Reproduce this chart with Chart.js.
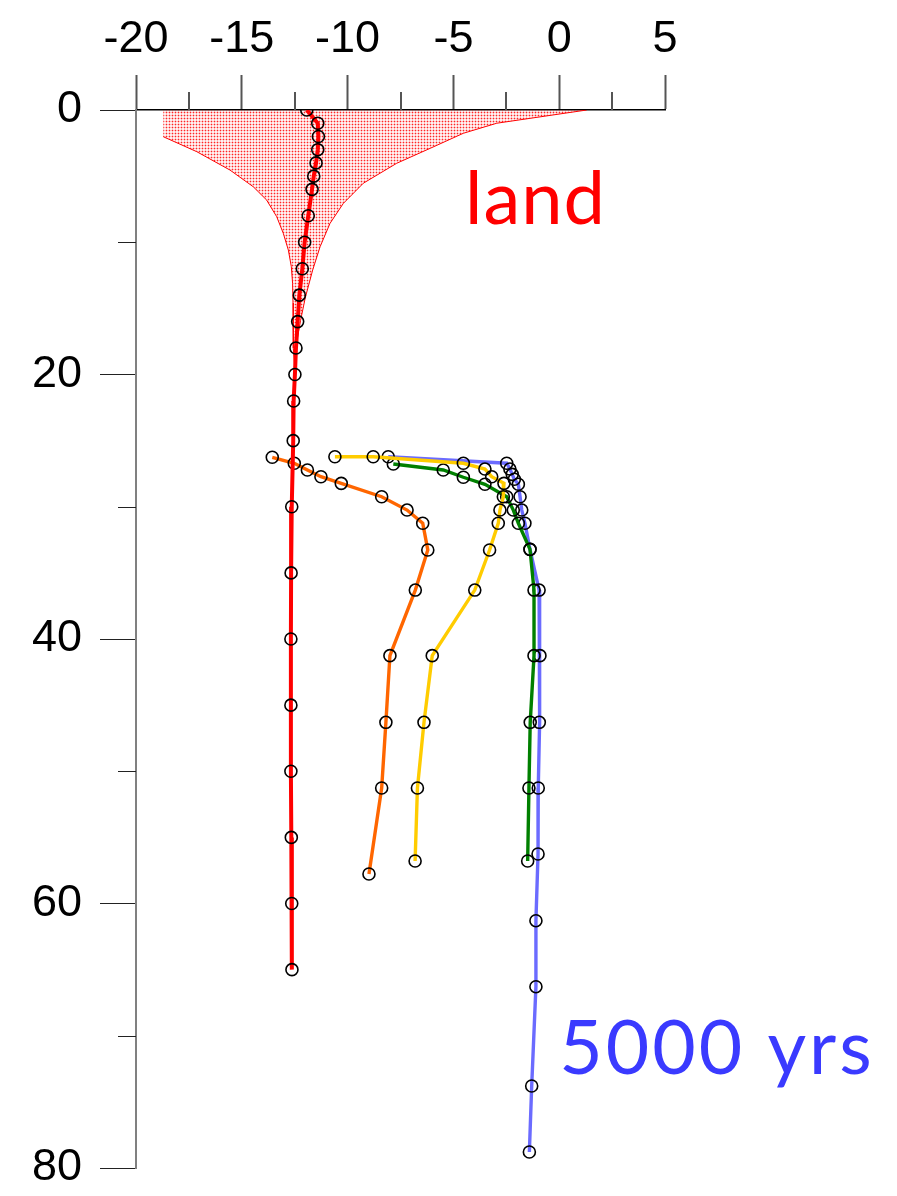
<!DOCTYPE html>
<html>
<head>
<meta charset="utf-8">
<script src="https://cdn.jsdelivr.net/npm/chart.js@4/dist/chart.umd.min.js"></script>
<style>
  html, body { margin: 0; padding: 0; background: #fff; }
  canvas { display: block; }
</style>
</head>
<body>
<canvas id="c" width="897" height="1196"></canvas>
<script>
// Temperature (°C, x) against depth (m, y, increasing downward)

// Land profile
const landDepth = [0, 1, 2, 3, 4, 5, 6, 8, 10, 12, 14, 16, 18, 20, 22, 25, 30, 35, 40, 45, 50, 55, 60, 65];
const landTemp  = [-11.93, -11.41, -11.38, -11.41, -11.49, -11.6, -11.68, -11.86, -12.03, -12.14, -12.28, -12.36,
                   -12.44, -12.49, -12.55, -12.57, -12.64, -12.67, -12.68, -12.68, -12.68, -12.66, -12.64, -12.63];

// Seasonal range of the land profile (left and right edges, top to bottom)
const rangeLeftTemp   = [-18.71, -18.71, -17.13, -15.56, -14.46, -13.83, -13.35, -13.04, -12.8, -12.66, -12.6, -12.58, -12.57, -12.56, -12.5];
const rangeLeftDepth  = [0, 2.02, 3.15, 4.54, 5.8, 6.8, 8.07, 9.32, 10.59, 11.85, 13.1, 14.6, 16, 18, 19.5];
const rangeRightTemp  = [1.3, -2.95, -4.53, -6.1, -7.68, -9.26, -10.2, -10.83, -11.3, -11.65, -12.0, -12.22, -12.4, -12.5];
const rangeRightDepth = [0, 1.0, 1.76, 2.9, 4.03, 5.54, 7.06, 8.57, 10.34, 12.1, 14.2, 15.9, 17.5, 19.5];

// Submerged profiles
const orangeDepth = [26.26, 26.71, 27.22, 27.73, 28.23, 29.24, 30.25, 31.25, 33.27, 36.3, 41.26, 46.3, 51.27, 57.77];
const orangeTemp  = [-13.56, -12.52, -11.9, -11.26, -10.3, -8.39, -7.19, -6.45, -6.21, -6.8, -8.0, -8.19, -8.39, -8.99];

const yellowDepth = [26.22, 26.22, 26.71, 27.15, 27.73, 28.23, 29.24, 30.25, 31.25, 33.27, 36.3, 41.26, 46.3, 51.27, 56.79];
const yellowTemp  = [-10.6, -8.79, -4.53, -3.51, -3.19, -2.61, -2.64, -2.8, -2.88, -3.29, -3.99, -6.0, -6.39, -6.7, -6.81];

const greenDepth = [26.77, 27.22, 27.77, 28.3, 29.24, 30.25, 31.25, 33.22, 36.3, 41.26, 46.3, 51.27, 56.79];
const greenTemp  = [-7.84, -5.48, -4.53, -3.51, -2.48, -2.17, -1.93, -1.38, -1.19, -1.19, -1.37, -1.43, -1.49];

const blueDepth = [26.22, 26.71, 27.15, 27.55, 27.92, 28.3, 29.24, 30.25, 31.25, 33.22, 36.3, 41.26, 46.3, 51.27,
                   56.26, 61.3, 66.29, 73.8, 78.79];
const blueTemp  = [-8.08, -2.48, -2.33, -2.22, -2.12, -1.93, -1.85, -1.77, -1.62, -1.38, -0.95, -0.91, -0.94, -0.99,
                   -1.0, -1.1, -1.1, -1.3, -1.41];

// Axis tick labels
const xTickValues = [-20, -15, -10, -5, 0, 5];
const yTickValues = [0, 20, 40, 60, 80];

const pts = (xs, ys) => xs.map((x, i) => ({ x: x, y: ys[i] }));

// Closed outline of the range: down the left edge, back up the right edge
const rangeShape = pts(rangeLeftTemp, rangeLeftDepth)
  .concat(pts(rangeRightTemp, rangeRightDepth).reverse());
// Stroked edge of the range (the flat top and the left cut are not outlined)
const rangeEdge = rangeShape.slice(1);

const canvas = document.getElementById('c');
const ctx0 = canvas.getContext('2d');

// Dotted pink-red fill
const tile = document.createElement('canvas');
tile.width = 3; tile.height = 3;
const tctx = tile.getContext('2d');
tctx.fillStyle = 'rgba(255,0,0,0.85)';
tctx.fillRect(1, 1, 1, 1);
tctx.fillStyle = 'rgba(255,0,0,0.28)';
tctx.fillRect(0, 1, 1, 1);
tctx.fillRect(2, 1, 1, 1);
tctx.fillRect(1, 0, 1, 1);
tctx.fillRect(1, 2, 1, 1);
tctx.fillStyle = 'rgba(255,0,0,0.06)';
tctx.fillRect(0, 0, 1, 1);
tctx.fillRect(2, 0, 1, 1);
tctx.fillRect(0, 2, 1, 1);
tctx.fillRect(2, 2, 1, 1);
const dotFill = ctx0.createPattern(tile, 'repeat');

const profile = (data, color, order, width) => ({
  data: data,
  showLine: true,
  borderColor: color,
  borderWidth: width || 3.4,
  tension: 0,
  pointRadius: 6,
  pointBorderWidth: 1.6,
  pointBorderColor: '#000',
  pointBackgroundColor: 'rgba(0,0,0,0)',
  order: order
});

const MINOR_LEN = 18;

const axisMinorTicks = {
  id: 'axisMinorTicks',
  beforeDatasetsDraw(chart) {
    const ctx = chart.ctx;
    const xs = chart.scales.x, ys = chart.scales.y;
    ctx.save();
    ctx.strokeStyle = '#555';
    ctx.lineWidth = 2;
    ctx.beginPath();
    xs.ticks.forEach(t => {
      if (!xTickValues.includes(t.value)) {
        const p = Math.round(xs.getPixelForValue(t.value));
        ctx.moveTo(p, xs.bottom);
        ctx.lineTo(p, xs.bottom - MINOR_LEN);
      }
    });
    ctx.stroke();
    ctx.strokeStyle = '#222';
    ctx.lineWidth = 1;
    ctx.beginPath();
    ys.ticks.forEach(t => {
      if (!yTickValues.includes(t.value)) {
        const p = Math.round(ys.getPixelForValue(t.value)) + 0.5;
        ctx.moveTo(ys.right, p);
        ctx.lineTo(ys.right - MINOR_LEN, p);
      }
    });
    ctx.stroke();
    ctx.restore();
  }
};

const seriesLabels = {
  id: 'seriesLabels',
  afterDatasetsDraw(chart) {
    const ctx = chart.ctx;
    const xs = chart.scales.x, ys = chart.scales.y;
    ctx.save();
    ctx.textAlign = 'left';
    ctx.textBaseline = 'alphabetic';
    ctx.font = '74px Lato, "Open Sans", sans-serif';
    ctx.fillStyle = '#ff0000';
    ctx.letterSpacing = '1px';
    ctx.fillText('land', xs.getPixelForValue(-4.45), ys.getPixelForValue(8.62));
    ctx.font = '75px Lato, "Open Sans", sans-serif';
    ctx.fillStyle = '#3a3aff';
    ctx.letterSpacing = '3px';
    ctx.fillText('5000 yrs', xs.getPixelForValue(0), ys.getPixelForValue(72.9));
    ctx.restore();
  }
};

const tickFont = { family: '"Liberation Sans", Arial, sans-serif', size: 45 };

new Chart(canvas, {
  type: 'scatter',
  data: {
    datasets: [
      {
        label: 'range fill',
        data: rangeShape,
        showLine: true,
        fill: 'shape',
        backgroundColor: dotFill,
        borderWidth: 0,
        borderColor: 'rgba(0,0,0,0)',
        pointRadius: 0,
        order: 11
      },
      {
        label: 'range edge',
        data: rangeEdge,
        showLine: true,
        fill: false,
        borderColor: '#ff0000',
        borderWidth: 1,
        pointRadius: 0,
        order: 10
      },
      Object.assign(profile(pts(blueTemp, blueDepth), '#6b6bff', 5), { label: '5000 yrs' }),
      Object.assign(profile(pts(greenTemp, greenDepth), '#008000', 4), { label: 'green' }),
      Object.assign(profile(pts(yellowTemp, yellowDepth), '#ffcc00', 3), { label: 'yellow' }),
      Object.assign(profile(pts(orangeTemp, orangeDepth), '#ff6600', 2), { label: 'orange' }),
      Object.assign(profile(pts(landTemp, landDepth), '#ff0000', 1, 4), { label: 'land' })
    ]
  },
  options: {
    responsive: false,
    maintainAspectRatio: false,
    animation: false,
    devicePixelRatio: 1,
    events: [],
    layout: { padding: { left: 0, right: 232, top: 0, bottom: 28 } },
    plugins: { legend: { display: false }, tooltip: { enabled: false } },
    scales: {
      x: {
        type: 'linear',
        position: 'top',
        min: -20,
        max: 5,
        afterFit(s) { s.height = 110; s.paddingLeft = 0; s.paddingRight = 0; },
        ticks: {
          stepSize: 2.5,
          autoSkip: false,
          maxRotation: 0,
          padding: 8,
          color: '#000',
          font: tickFont,
          callback: v => (xTickValues.includes(v) ? String(v) : '')
        },
        grid: {
          drawOnChartArea: false,
          drawTicks: true,
          tickLength: 35,
          tickWidth: 2,
          tickColor: c => (xTickValues.includes(c.tick.value) ? '#555' : 'rgba(0,0,0,0)')
        },
        border: { display: true, color: '#000', width: 1.5 }
      },
      y: {
        type: 'linear',
        position: 'left',
        reverse: true,
        min: 0,
        max: 80,
        afterFit(s) { s.width = 136; s.paddingTop = 0; s.paddingBottom = 0; },
        ticks: {
          stepSize: 10,
          autoSkip: false,
          padding: 18,
          color: '#000',
          font: tickFont,
          callback: v => (yTickValues.includes(v) ? String(v) : '')
        },
        grid: {
          drawOnChartArea: false,
          drawTicks: true,
          tickLength: 36,
          tickWidth: 1,
          tickColor: c => (yTickValues.includes(c.tick.value) ? '#222' : 'rgba(0,0,0,0)')
        },
        border: { display: true, color: '#808080', width: 2 }
      }
    }
  },
  plugins: [axisMinorTicks, seriesLabels]
});
</script>
</body>
</html>
